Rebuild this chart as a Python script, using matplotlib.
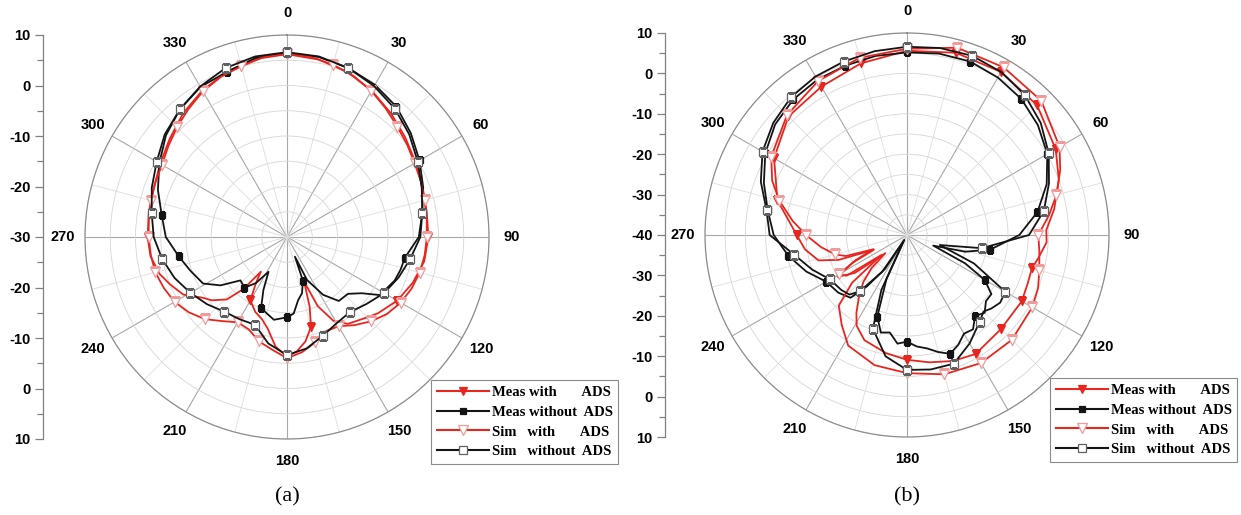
import numpy as np
import matplotlib
matplotlib.use("Agg")
import matplotlib.pyplot as plt
from matplotlib.lines import Line2D

# ------------------------------------------------------------------ data
ANGLE_TICKS = [0, 30, 60, 90, 120, 150, 180, 210, 240, 270, 300, 330]
ANGLE_LABELS = ["0", "30", "60", "90", "120", "150", "180", "210", "240", "270", "300", "330"]

A_RANGE = (-30, 10)
B_RANGE = (-40, 10)
A_AXIS_LABELS = ["10", "0", "-10", "-20", "-30", "-20", "-10", "0", "10"]
B_AXIS_LABELS = ["10", "0", "-10", "-20", "-30", "-40", "-30", "-20", "-10", "0", "10"]

LEGEND_LABELS = ["Meas with       ADS", "Meas without  ADS",
                 "Sim   with       ADS", "Sim   without  ADS"]
CAPTIONS = ["(a)", "(b)"]

# ---- panel (a) ----
A_MEAS_W_ANG = [0, 10, 20, 30, 40, 50, 60, 70, 80, 90, 100, 110, 120, 130, 136, 145, 151, 156, 159,
                162, 165, 170, 175, 180, 186, 192, 197, 203, 210, 214, 217, 220, 224, 230, 234, 241,
                248, 254, 262, 270, 280, 290, 300, 310, 320, 330, 340, 350]
A_MEAS_W_DB = [6.2, 5.7, 4.8, 3.5, 2.0, 0.6, -0.6, -1.4, -1.9, -2.0, -2.4, -3.5, -4.8, -6.5, -7.7,
               -9.0, -11.0, -15.0, -20.5, -15.5, -11.6, -9.0, -7.3, -6.3, -8.2, -11.5, -13.0, -13.9,
               -15.5, -19.0, -21.4, -16.5, -12.8, -10.5, -9.5, -6.5, -5.0, -3.7, -2.7, -2.4, -2.2,
               -1.9, -1.0, 0.3, 2.0, 3.5, 4.8, 5.8]

A_MEAS_WO_ANG = [0, 10, 20, 30, 40, 50, 60, 70, 80, 90, 100, 106, 112, 122, 127, 133, 141, 148, 155,
                 158, 160, 165, 170, 175, 180, 189, 200, 204, 208, 214, 220, 227, 234, 241, 251, 260,
                 270, 280, 290, 300, 310, 320, 330, 340, 350]
A_MEAS_WO_DB = [6.4, 6.2, 5.6, 4.8, 3.7, 2.0, 0.3, -1.3, -2.8, -3.9, -6.3, -6.6, -7.0, -8.3, -11.5,
                -13.5, -13.7, -16.5, -20.6, -25.8, -20.8, -18.5, -17.3, -14.8, -14.1, -13.4, -15.0,
                -18.5, -22.2, -19.0, -16.9, -17.4, -13.7, -11.0, -9.7, -8.2, -6.0, -4.8, -2.8, -0.8,
                1.3, 3.0, 4.3, 4.8, 6.0]

A_SIM_W_ANG = [0, 7.5, 15, 22.5, 30, 37.5, 45, 52.5, 60, 67.5, 75, 82.5, 90, 97.5, 105, 112.5, 120,
               127.5, 135, 142.5, 150, 157.5, 165, 172.5, 180, 187.5, 195, 202.5, 210, 217.5, 225,
               232.5, 240, 247.5, 255, 262.5, 270, 277.5, 285, 292.5, 300, 307.5, 315, 322.5, 330,
               337.5, 345, 352.5]
A_SIM_W_DB = [6.3, 6.0, 5.3, 4.5, 3.4, 2.1, 0.9, 0.0, -0.8, -1.3, -1.8, -2.1, -2.3, -2.5, -2.8, -3.3,
              -4.0, -5.0, -6.4, -8.0, -9.6, -9.8, -8.4, -7.0, -6.0, -7.5, -8.6, -10.2, -10.5, -9.0,
              -7.0, -5.5, -4.3, -3.6, -3.0, -2.8, -2.6, -2.4, -2.1, -1.8, -1.4, -0.4, 0.8, 2.0, 3.3,
              4.3, 5.0, 5.9]

A_SIM_WO_ANG = list(range(0, 360, 10))
A_SIM_WO_DB = [6.6, 6.3, 5.6, 4.5, 3.2, 1.6, -0.1, -1.6, -2.8, -3.6, -5.2, -6.5, -7.8, -9.4, -10.6,
               -10.3, -9.2, -7.6, -6.6, -8.6, -11.5, -11.2, -10.7, -9.3, -7.9, -6.3, -4.9, -3.6,
               -2.8, -1.5, -0.2, 1.6, 3.0, 4.4, 5.6, 6.3]

# ---- panel (b) ----
B_MEAS_W_ANG = [0, 15, 30, 45, 60, 70, 80, 88, 93, 100, 105, 112, 120, 135, 150, 160, 170, 180, 190,
                202, 209, 213, 218, 223, 227, 230, 234, 239, 243, 246, 250, 254, 262, 270, 285, 300,
                315, 330, 345]
B_MEAS_W_DB = [5.6, 6.7, 6.6, 5.5, 2.5, 0.0, -3.0, -5.5, -5.4, -7.0, -8.0, -7.8, -7.2, -7.1, -6.0,
               -6.8, -8.0, -9.1, -10.3, -11.9, -14.3, -17.0, -20.7, -24.2, -28.0, -33.0, -24.0,
               -19.9, -25.0, -31.0, -22.0, -17.2, -14.5, -12.7, -6.8, -2.0, 1.5, 2.4, 4.0]

B_MEAS_WO_ANG = [0, 10, 20, 30, 40, 50, 60, 70, 80, 90, 100, 106, 112, 116, 120, 125, 130, 135, 140,
                 145, 150, 155, 160, 165, 170, 175, 180, 185, 190, 195, 200, 205, 209, 213, 218, 222,
                 230, 240, 250, 260, 270, 280, 290, 300, 310, 320, 330, 340, 350]
B_MEAS_WO_DB = [5.2, 5.6, 5.7, 5.0, 4.0, 2.3, 0.1, -3.2, -7.2, -12.2, -19.1, -25.0, -33.0, -24.0,
                -17.8, -14.5, -14.5, -12.8, -13.8, -11.5, -11.8, -10.0, -8.7, -10.0, -11.5, -12.3,
                -13.6, -13.0, -15.5, -15.0, -18.5, -28.0, -38.6, -30.0, -23.8, -19.1, -17.8, -16.9,
                -13.5, -10.2, -7.0, -5.0, -2.3, 0.5, 2.6, 3.8, 4.4, 4.6, 5.0]

B_SIM_W_ANG = [0, 15, 30, 45, 60, 67, 75, 82, 90, 97, 105, 112, 120, 135, 150, 165, 180, 194, 208,
               216, 224, 229, 232, 236, 240, 244, 247, 251, 255, 262, 270, 277, 285, 292, 300, 315,
               330, 345]
B_SIM_W_DB = [6.1, 8.0, 7.9, 7.0, 3.6, 1.2, -1.7, -4.5, -7.5, -7.0, -6.1, -5.0, -4.2, -3.3, -3.4,
              -4.3, -5.8, -6.8, -9.0, -12.5, -15.7, -22.0, -32.0, -22.0, -20.5, -26.0, -31.0, -24.0,
              -21.5, -18.5, -15.0, -11.5, -7.3, -4.0, -1.2, 2.0, 4.0, 5.4]

B_SIM_WO_ANG = [0, 10, 20, 30, 40, 50, 60, 70, 80, 90, 100, 107, 113, 120, 126, 131, 135, 140, 150,
                160, 170, 180, 190, 200, 205, 209, 214, 220, 224, 230, 240, 250, 260, 270, 280, 290,
                300, 310, 320, 330, 340, 350]
B_SIM_WO_DB = [6.6, 7.0, 7.2, 6.6, 5.3, 3.2, 0.5, -2.6, -5.6, -9.8, -21.2, -31.5, -22.0, -11.9,
               -11.5, -12.3, -13.2, -12.0, -9.0, -6.1, -6.2, -6.6, -9.5, -15.3, -25.0, -38.5, -29.0,
               -21.8, -19.5, -18.8, -18.0, -15.0, -11.7, -6.0, -4.7, -1.5, 1.3, 3.2, 4.6, 5.3, 5.7,
               6.2]

# ------------------------------------------------------------------ style
RED = "#e8251f"
BLACK = "#141414"
NUM_FONT = dict(family="Liberation Sans", weight="bold", size=10.5)

STYLES = [
    dict(color=RED, marker="v", mfc=RED, mec=RED, ms=6, step=15),             # meas with
    dict(color=BLACK, marker="s", mfc=BLACK, mec=BLACK, ms=5, step=20),       # meas without
    dict(color=RED, marker="v", mfc="white", mec="#f09a9a", ms=6.5, step=15),  # sim with
    dict(color=BLACK, marker="s", mfc="white", mec="#606060", ms=5.5, step=20),  # sim without
]

fig = plt.figure(figsize=(12.41, 5.15), dpi=100)
W, H = 1241.0, 515.0


def fx(px):
    return px / W


def fy(py):
    return 1.0 - py / H


def draw_panel(cx, cy, rad, rng, series, axis_x, axis_labels, legend_xy, caption):
    ax = fig.add_axes([fx(cx - rad), fy(cy + rad), 2 * rad / W, 2 * rad / H], projection="polar")
    ax.set_theta_zero_location("N")
    ax.set_theta_direction(-1)
    ax.set_ylim(*rng)
    ax.set_yticks(np.arange(rng[0], rng[1] + 0.1, 5))
    ax.set_yticklabels([])
    ax.set_xticks(np.deg2rad(ANGLE_TICKS))
    ax.set_xticklabels([])
    ax.set_xticks(np.deg2rad(np.arange(15, 360, 30)), minor=True)
    ax.tick_params(axis="both", which="both", length=0)
    ax.xaxis.grid(True, which="major", color="#a8a8a8", lw=0.8)
    ax.xaxis.grid(True, which="minor", color="#dedede", lw=0.6)
    ax.yaxis.grid(True, which="major", color="#d6d6d6", lw=0.6)
    ax.spines["polar"].set_color("#8c8c8c")
    ax.spines["polar"].set_linewidth(0.9)

    for (ang, db), st in zip(series, STYLES):
        ang = np.asarray(ang, dtype=float)
        db = np.asarray(db, dtype=float)
        th = np.deg2rad(np.append(ang, ang[0] + 360))
        rr = np.append(db, db[0])
        mk = [i for i, a in enumerate(ang) if abs(a % st["step"]) < 1e-6]
        ax.plot(th, rr, color=st["color"], lw=1.3, marker=st["marker"], ms=st["ms"],
                mfc=st["mfc"], mec=st["mec"], mew=0.9, markevery=mk, zorder=3)

    k = 1.11
    for a, lab in zip(ANGLE_TICKS, ANGLE_LABELS):
        t = np.deg2rad(a)
        ax.text(0.5 + 0.5 * k * np.sin(t), 0.5 + 0.5 * k * np.cos(t), lab,
                transform=ax.transAxes, ha="center", va="center", **NUM_FONT)

    # left linear scale
    sax = fig.add_axes([fx(axis_x), fy(cy + rad), 0.004, 2 * rad / H])
    n = len(axis_labels)
    sax.set_ylim(n - 1, 0)
    sax.set_yticks(range(n))
    sax.set_yticklabels(axis_labels, **NUM_FONT)
    sax.set_yticks(np.arange(0.5, n - 1, 1.0), minor=True)
    for s in ["top", "right", "bottom"]:
        sax.spines[s].set_visible(False)
    sax.spines["left"].set_color("#808080")
    sax.spines["left"].set_linewidth(0.9)
    sax.set_xticks([])
    sax.patch.set_visible(False)
    sax.tick_params(axis="y", which="major", length=6, width=0.9, color="#808080", pad=3)
    sax.tick_params(axis="y", which="minor", length=4, width=0.9, color="#808080")

    handles = [Line2D([], [], color=st["color"], lw=1.5, marker=st["marker"], ms=st["ms"],
                      mfc=st["mfc"], mec=st["mec"], mew=0.9) for st in STYLES]
    leg = ax.legend(handles, LEGEND_LABELS, loc="upper left",
                    bbox_to_anchor=(fx(legend_xy[0]), fy(legend_xy[1])),
                    bbox_transform=fig.transFigure, frameon=True, fancybox=False,
                    edgecolor="#8a8a8a", framealpha=1,
                    prop=dict(family="Liberation Serif", weight="bold", size=10.5),
                    handlelength=3.6, handletextpad=0.15, borderpad=0.4, labelspacing=0.45,
                    borderaxespad=0, numpoints=1)
    leg.get_frame().set_linewidth(0.8)
    leg.set_zorder(10)

    fig.text(fx(cx), fy(497), caption, ha="center", va="center",
             family="Liberation Serif", size=16)


draw_panel(287, 237, 202, A_RANGE,
           [(A_MEAS_W_ANG, A_MEAS_W_DB), (A_MEAS_WO_ANG, A_MEAS_WO_DB),
            (A_SIM_W_ANG, A_SIM_W_DB), (A_SIM_WO_ANG, A_SIM_WO_DB)],
           43, A_AXIS_LABELS, (431, 380), CAPTIONS[0])
draw_panel(907, 235, 202, B_RANGE,
           [(B_MEAS_W_ANG, B_MEAS_W_DB), (B_MEAS_WO_ANG, B_MEAS_WO_DB),
            (B_SIM_W_ANG, B_SIM_W_DB), (B_SIM_WO_ANG, B_SIM_WO_DB)],
           665, B_AXIS_LABELS, (1050, 378), CAPTIONS[1])

fig.savefig("out.png", dpi=100, facecolor="white")
